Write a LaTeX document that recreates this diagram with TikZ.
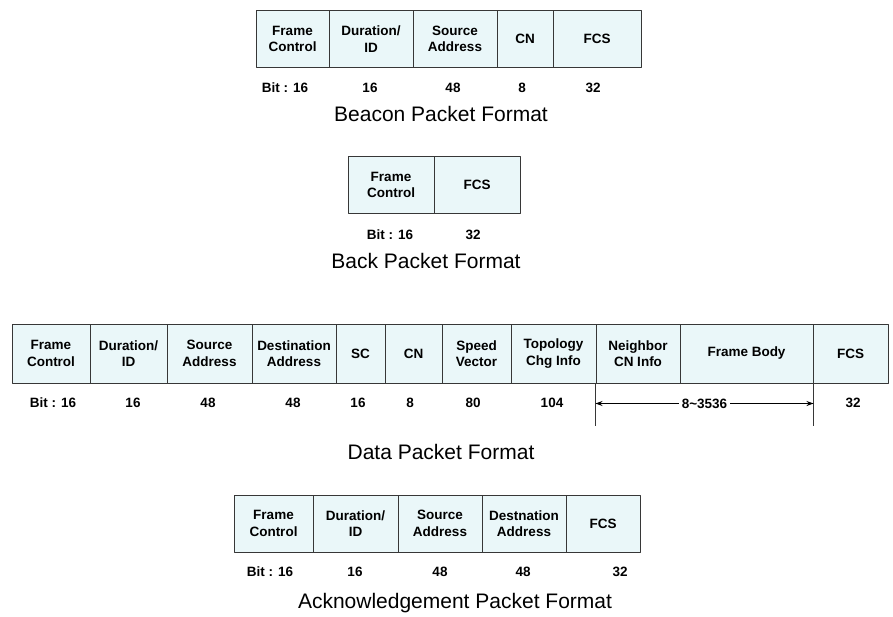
\documentclass[tikz,border=0pt]{standalone}
\usepackage{fontspec}
\setmainfont{Liberation Sans}
\usetikzlibrary{arrows.meta}
\definecolor{cellfill}{RGB}{234,247,249}
\definecolor{cellline}{RGB}{55,55,55}
\tikzset{
  cell/.style={draw=cellline, line width=1pt, fill=cellfill, minimum height=57pt,
    inner sep=0pt, align=center, font=\fontsize{13.5}{16.5}\selectfont\bfseries},
  bit/.style={font=\fontsize{13.5}{15}\selectfont\bfseries, inner sep=1pt},
  title/.style={font=\fontsize{21}{24}\selectfont}
}
\begin{document}
\begin{tikzpicture}[x=1pt, y=-1pt, >={Stealth[length=7pt,width=5pt]}, line join=round]
 \useasboundingbox (0,0) rectangle (893,617);
 % beacon
 \foreach \i/\l/\r/\t in {1/256/329/{Frame\\Control}, 2/329/413/{Duration/\\ID},
   3/413/497/{Source\\Address}, 4/497/553/{CN}, 5/553/641/{FCS}}
   \node[cell, minimum width=\r-\l] (bc\i) at ({(\l+\r)/2},39) {\t};
 \foreach \i/\x/\t in {1/285/{Bit : 16}, 2/370/16, 3/453/48, 4/522/8, 5/593/32}
   \node[bit] (bcb\i) at (\x,88) {\t};
 \node[title] (bctitle) at (441,114) {Beacon Packet Format};
 % back
 \foreach \i/\l/\r/\t in {1/348/434/{Frame\\Control}, 2/434/520/{FCS}}
   \node[cell, minimum width=\r-\l] (bk\i) at ({(\l+\r)/2},185) {\t};
 \foreach \i/\x/\t in {1/390/{Bit : 16}, 2/473/32}
   \node[bit] (bkb\i) at (\x,235) {\t};
 \node[title] (bktitle) at (426,261) {Back Packet Format};
 % data
 \foreach \i/\l/\r/\t in {1/12/90/{Frame\\Control}, 2/90/167/{Duration/\\ID},
   3/167/252/{Source\\Address}, 4/252/336/{Destination\\Address}, 5/336/385/{SC},
   6/385/442/{CN}, 7/442/511/{Speed\\Vector}, 8/511/596/{Topology\\Chg Info},
   9/596/680/{Neighbor\\CN Info}, 10/680/813/{Frame Body}, 11/813/888/{FCS}}
   \node[cell, minimum width=\r-\l, minimum height=59pt] (dt\i) at ({(\l+\r)/2},353.5) {\t};
 \foreach \i/\x/\t in {1/53/{Bit : 16}, 2/133/16, 3/208/48, 4/293/48, 5/358/16,
   6/410/8, 7/473/80, 8/552/104, 11/853/32}
   \node[bit] (dtb\i) at (\x,403) {\t};
 \draw[cellline, line width=0.8pt] (dt9.south west) -- ++(0,42) coordinate (dtl);
 \draw[cellline, line width=0.8pt] (dt10.south east) -- ++(0,42) coordinate (dtr);
 \draw[<->, line width=0.8pt] ([yshift=-20pt]dt9.south west) -- node[bit, fill=white, inner xsep=3pt] (dtb9) {8\textasciitilde3536} ([yshift=-20pt]dt10.south east);
 \node[title] (dttitle) at (441,452) {Data Packet Format};
 % acknowledgement
 \foreach \i/\l/\r/\t in {1/234/313/{Frame\\Control}, 2/313/398/{Duration/\\ID},
   3/398/482/{Source\\Address}, 4/482/566/{Destnation\\Address}, 5/566/640/{FCS}}
   \node[cell, minimum width=\r-\l] (ak\i) at ({(\l+\r)/2},523.5) {\t};
 \foreach \i/\x/\t in {1/270/{Bit : 16}, 2/355/16, 3/440/48, 4/523/48, 5/620/32}
   \node[bit] (akb\i) at (\x,572) {\t};
 \node[title] (aktitle) at (455,603) {Acknowledgement Packet Format};
\end{tikzpicture}
\end{document}
